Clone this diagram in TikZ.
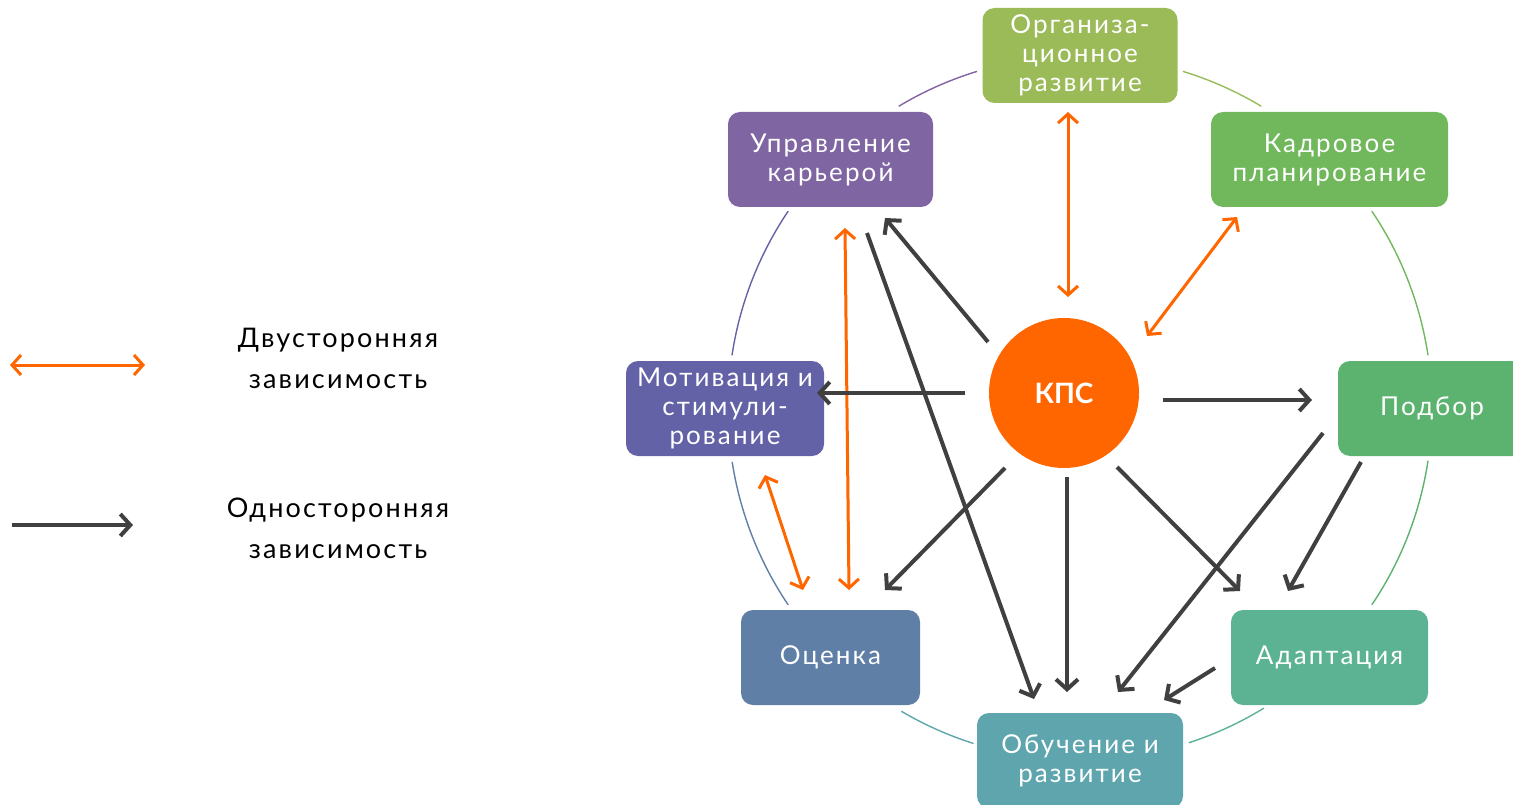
\documentclass[tikz,border=0pt]{standalone}
\usepackage{fontspec}
\setmainfont{Lato}[LetterSpace=8]
\newfontfamily\kpsfont{Lato}
\usetikzlibrary{arrows.meta}
\definecolor{corg}{HTML}{9BBB59}
\definecolor{ckadr}{HTML}{70B85B}
\definecolor{cpod}{HTML}{5CB36F}
\definecolor{cadapt}{HTML}{5CB394}
\definecolor{cobuch}{HTML}{5EA5AE}
\definecolor{cocen}{HTML}{5F7FA7}
\definecolor{cmotiv}{HTML}{6462A7}
\definecolor{cuprav}{HTML}{7F65A2}
\definecolor{corange}{HTML}{FF6600}
\definecolor{cdark}{HTML}{404040}
\begin{document}
\begin{tikzpicture}[x=1pt,y=1pt,
  box/.style={rounded corners=12pt, text=white, align=center,
    font=\fontsize{26}{29}\selectfont, minimum height=95pt, inner sep=0pt},
  two/.style={draw=corange, line width=3pt,
    {Straight Barb[length=9pt,width=20pt]}-{Straight Barb[length=9pt,width=20pt]}},
  one/.style={draw=cdark, line width=4pt, -{Straight Barb[length=10pt,width=22pt]}},
  ring/.style={line width=1.4pt},
  legtext/.style={align=center, font=\fontsize{27}{41}\selectfont, text=black}]
\clip (0,0) rectangle (1513,-805);
\coordinate (c) at (1080,-408);
% ring arcs
\draw[ring, draw=cuprav] ([shift={(121:352)}]c) arc[start angle=121,end angle=107,radius=352];
\draw[ring, draw=corg] ([shift={(73:352)}]c) arc[start angle=73,end angle=59,radius=352];
\draw[ring, draw=ckadr] ([shift={(34:352)}]c) arc[start angle=34,end angle=8.6,radius=352];
\draw[ring, draw=cpod] ([shift={(-8.6:352)}]c) arc[start angle=-8.6,end angle=-34,radius=352];
\draw[ring, draw=cadapt] ([shift={(-58.5:352)}]c) arc[start angle=-58.5,end angle=-72,radius=352];
\draw[ring, draw=cobuch] ([shift={(252.4:352)}]c) arc[start angle=252.4,end angle=239.5,radius=352];
\draw[ring, draw=cocen] ([shift={(214:352)}]c) arc[start angle=214,end angle=188.8,radius=352];
\draw[ring, draw=cmotiv] ([shift={(171.4:352)}]c) arc[start angle=171.4,end angle=146,radius=352];
% nodes
\node[box, fill=corg, minimum width=195pt] (org) at (1080,-55.5) {Организа-\\ционное\\развитие};
\node[box, fill=ckadr, minimum width=237pt] (kadr) at (1329.5,-159.5) {Кадровое\\планирование};
\node[box, fill=cpod, minimum width=188pt] (podbor) at (1432,-408.5) {Подбор};
\node[box, fill=cadapt, minimum width=197pt] (adapt) at (1329.5,-657.5) {Адаптация};
\node[box, fill=cobuch, minimum width=206pt] (obuch) at (1080,-760.5) {Обучение и\\развитие};
\node[box, fill=cocen, minimum width=179pt] (ocen) at (830.5,-657.5) {Оценка};
\node[box, fill=cmotiv, minimum width=198pt] (motiv) at (725,-408.5) {Мотивация и\\стимули-\\рование};
\node[box, fill=cuprav, minimum width=205pt] (uprav) at (830.5,-159.5) {Управление\\карьерой};
\node[circle, fill=corange, minimum size=150pt, inner sep=0pt, text=white,
  font=\kpsfont\bfseries\fontsize{28}{30}\selectfont] (kps) at (1064,-393) {КПС};
% two-way
\draw[two] ([shift={(-12,-56.5)}]org.center) -- ([shift={(4,96)}]kps.center);
\draw[two] ([shift={(-92.5,-57.5)}]kadr.center) -- ([shift={(83,57)}]kps.center);
\draw[two] ([shift={(14.5,-68.5)}]uprav.center) -- ([shift={(18.5,67.5)}]ocen.center);
\draw[two] ([shift={(40,-66.5)}]motiv.center) -- ([shift={(-27.5,67.5)}]ocen.center);
% one-way
\draw[one] ([shift={(-76,51)}]kps.center) -- ([shift={(54.5,-58.5)}]uprav.center);
\draw[one] ([shift={(36.5,-73.5)}]uprav.center) -- ([shift={(-46,61.5)}]obuch.center);
\draw[one] ([shift={(-99,0)}]kps.center) -- ([shift={(92,15.5)}]motiv.center);
\draw[one] ([shift={(99,-7)}]kps.center) -- ([shift={(-120,8.5)}]podbor.center);
\draw[one] ([shift={(-59,-75)}]kps.center) -- ([shift={(54.5,67.5)}]ocen.center);
\draw[one] ([shift={(3,-84)}]kps.center) -- ([shift={(-13,68.5)}]obuch.center);
\draw[one] ([shift={(53,-74)}]kps.center) -- ([shift={(-89.5,66.5)}]adapt.center);
\draw[one] ([shift={(-109,-24.5)}]podbor.center) -- ([shift={(38,68.5)}]obuch.center);
\draw[one] ([shift={(-71,-53.5)}]podbor.center) -- ([shift={(-41.5,66.5)}]adapt.center);
\draw[one] ([shift={(-114.5,-10.5)}]adapt.center) -- ([shift={(84,60.5)}]obuch.center);
% legend
\coordinate (l1a) at (10,-365);
\coordinate (l1b) at (145,-365);
\coordinate (l2a) at (12,-525);
\coordinate (l2b) at (133,-525);
\draw[two] (l1a) -- (l1b);
\draw[one] (l2a) -- (l2b);
\node[legtext] (leg1) at (338,-358) {Двусторонняя\\зависимость};
\node[legtext] (leg2) at (338,-528) {Односторонняя\\зависимость};
\end{tikzpicture}
\end{document}
